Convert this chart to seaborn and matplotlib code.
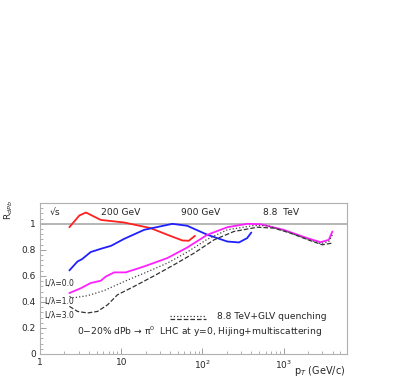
import numpy as np
import pandas as pd
import seaborn as sns
import matplotlib.pyplot as plt
from matplotlib.ticker import LogLocator, MultipleLocator, FixedLocator, FixedFormatter

# ---------------------------------------------------------
# DATA
# ---------------------------------------------------------
pt_200 = [2.3, 3.05, 3.68, 5.6, 10.9, 23, 37, 56.8, 68, 81]
r_200 = [0.974, 1.064, 1.087, 1.03, 1.01, 0.967, 0.916, 0.872, 0.87, 0.908]

pt_900 = [2.3, 2.9, 3.3, 4.2, 5.6, 7.5, 10.9, 19.2, 42.7, 65, 115, 203, 282, 355, 400]
r_900 = [0.642, 0.711, 0.729, 0.783, 0.808, 0.831, 0.885, 0.954, 1.0, 0.985, 0.916, 0.864, 0.857, 0.89, 0.933]

pt_l0 = [2.3, 3.2, 4.2, 5.6, 6.5, 8.2, 11.4, 19.2, 37, 65, 115, 203, 355, 521, 1000, 1960, 2850, 3600, 3980]
r_l0 = [0.468, 0.506, 0.545, 0.563, 0.596, 0.627, 0.627, 0.673, 0.737, 0.818, 0.916, 0.974, 1.0, 0.997,
        0.954, 0.89, 0.859, 0.877, 0.941]

pt_l1 = [2.3, 2.6, 3.85, 6.2, 10.9, 19.2, 37, 65, 115, 203, 431, 630, 1000, 1960, 2850, 3600, 3980]
r_l1 = [0.442, 0.432, 0.448, 0.488, 0.557, 0.621, 0.698, 0.783, 0.882, 0.954, 0.987, 0.985, 0.949,
        0.882, 0.847, 0.864, 0.916]

pt_l3 = [2.3, 2.9, 3.85, 5.1, 6.8, 9.0, 14.4, 25.5, 44.6, 79, 139, 244, 475, 760, 1220, 2150, 3000, 3980]
r_l3 = [0.366, 0.327, 0.315, 0.327, 0.378, 0.455, 0.519, 0.601, 0.685, 0.775, 0.877, 0.941, 0.974,
        0.967, 0.928, 0.87, 0.839, 0.852]

energy_labels = ['200 GeV', '900 GeV', '8.8  TeV']
lambda_labels = ['L/\u03bb=0.0', 'L/\u03bb=1.0', 'L/\u03bb=3.0']

curves = [
    (pt_200, r_200, '#ff2020', '-', 1.3),
    (pt_900, r_900, '#2020ff', '-', 1.3),
    (pt_l0, r_l0, '#ff20ff', '-', 1.3),
    (pt_l1, r_l1, '#444444', ':', 0.9),
    (pt_l3, r_l3, '#333333', '--', 0.9),
]

# ---------------------------------------------------------
# PLOT
# ---------------------------------------------------------
sns.set_theme(style="white")
plt.rcParams['font.family'] = ['DejaVu Sans']

fig = plt.figure(figsize=(4.15, 3.82), dpi=100)
ax = fig.add_axes([0.0964, 0.0733, 0.740, 0.3953])

ax.axhline(1.0, color='#b0b0b0', lw=1.3, zorder=1)

for x, y, c, ls, lw in curves:
    df = pd.DataFrame({'pt': x, 'r': y})
    sns.lineplot(data=df, x='pt', y='r', ax=ax, color=c, linestyle=ls, lw=lw,
                 estimator=None, sort=False, zorder=3)

ax.set_xscale('log')
ax.set_xlim(1, 6050)
ax.set_ylim(0, 1.16)

for s in ax.spines.values():
    s.set_color('#b0b0b0')
    s.set_linewidth(0.8)

ax.xaxis.set_major_locator(FixedLocator([1, 10, 100, 1000]))
ax.xaxis.set_major_formatter(FixedFormatter(['1', '10', '10$^2$', '10$^3$']))
ax.xaxis.set_minor_locator(LogLocator(base=10, subs=np.arange(2, 10)))
ax.yaxis.set_major_locator(MultipleLocator(0.2))
ax.yaxis.set_minor_locator(MultipleLocator(0.04))
ax.yaxis.set_major_formatter(plt.FuncFormatter(lambda v, p: '0' if v == 0 else ('1' if abs(v - 1) < 1e-9 else f'{v:.1f}')))
ax.tick_params(axis='both', which='both', direction='in', color='#909090', labelsize=6.5, pad=3,
               top=False, right=False, bottom=True, left=True)
ax.tick_params(which='major', length=4, width=0.6)
ax.tick_params(which='minor', length=2, width=0.5)
ax.set_xlabel('')
ax.set_ylabel('')

fs = 6.6
ax.text(1.55, 1.085, '\u221as', fontsize=fs, ha='center', va='center')
ax.text(9.8, 1.085, energy_labels[0], fontsize=fs, ha='center', va='center')
ax.text(95, 1.085, energy_labels[1], fontsize=fs, ha='center', va='center')
ax.text(920, 1.085, energy_labels[2], fontsize=fs, ha='center', va='center')

for lab, yy in zip(lambda_labels, [0.545, 0.405, 0.298]):
    ax.text(1.12, yy, lab, fontsize=5.5, ha='left', va='center')

ax.plot([40, 110], [0.293, 0.293], color='#333333', ls=':', lw=0.9)
ax.plot([40, 110], [0.268, 0.268], color='#333333', ls='--', lw=0.9)
ax.text(150, 0.285, '8.8 TeV+GLV quenching', fontsize=fs, ha='left', va='center')
ax.text(2.85, 0.17, '0\u221220% dPb \u2192 \u03c0$^0$  LHC at y=0, Hijing+multiscattering',
        fontsize=fs, ha='left', va='center')

fig.text(0.022, 0.45, 'R$_{dPb}$', fontsize=6.5, rotation=90, ha='center', va='center')
fig.text(0.833, 0.028, 'p$_T$ (GeV/c)', fontsize=7, ha='right', va='center')

fig.savefig('out.png', dpi=100)
